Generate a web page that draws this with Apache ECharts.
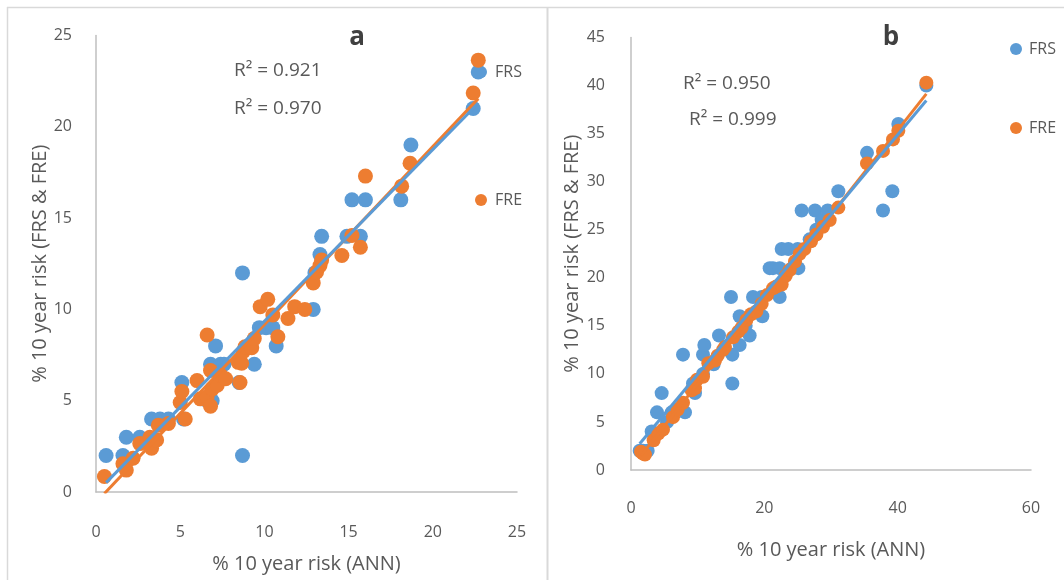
<!DOCTYPE html>
<html><head><meta charset="utf-8">
<script src="https://cdn.jsdelivr.net/npm/echarts@6/dist/echarts.min.js"></script>
<style>html,body{margin:0;padding:0;background:#fff}#c{width:1064px;height:580px}</style>
</head><body><div id="c"></div>
<script>
// ---- Data ----
const panelTitles = ['a', 'b'];
const xTitle = '% 10 year risk (ANN)';
const yTitle = '% 10 year risk (FRS & FRE)';
const r2A = ['R\u00b2 = 0.921', 'R\u00b2 = 0.970'];
const r2B = ['R\u00b2 = 0.950', 'R\u00b2 = 0.999'];

const aFRS = [[0.6,2],[1.6,2],[1.8,3],[2.6,3],[3.3,4],[3.8,4],[4.3,4],[5.1,6],[5.2,4],[6.6,5],[6.8,7],[6.9,5],[7.1,8],[7.4,7],[7.6,7],[8.5,6],[8.7,12],[8.7,2],[9.4,7],[9.7,9],[10.1,9],[10.5,9],[10.7,8],[12.9,10],[13.0,12],[13.3,13],[13.4,14],[14.9,14],[15.2,16],[15.7,14],[16.0,16],[18.1,16],[18.7,19],[22.4,21],[22.7,23]];
const aFRE = [[0.5,0.85],[1.6,1.55],[1.8,1.2],[2.2,1.85],[2.6,2.65],[3.2,3.0],[3.3,2.4],[3.6,2.85],[3.7,3.65],[4.3,3.75],[5.0,4.9],[5.1,5.5],[5.3,4.0],[6.0,6.1],[6.2,5.1],[6.6,5.2],[6.6,8.6],[6.8,4.7],[6.8,6.65],[6.9,5.65],[7.2,5.85],[7.4,6.4],[7.7,6.2],[8.45,7.1],[8.55,6.0],[8.65,7.05],[8.75,7.7],[8.85,7.95],[9.25,7.9],[9.4,8.4],[9.75,10.15],[10.2,10.55],[10.5,9.7],[10.8,8.5],[11.4,9.5],[11.8,10.15],[12.4,10.0],[12.9,11.45],[13.1,12.05],[13.3,12.4],[13.4,12.7],[14.6,12.95],[15.2,14.05],[15.7,13.4],[16.0,17.3],[18.15,16.75],[18.65,18.0],[22.4,21.85],[22.7,23.65]];

const bFRS = [[1.3,2],[1.8,2],[2.5,2],[3.1,4],[3.9,6],[4.6,8],[5.4,5],[6.1,6],[7.8,12],[8.1,6],[9.3,9],[9.6,8],[10.8,10],[10.8,12],[11.0,13],[12.4,11],[13.2,14],[15.0,18],[15.2,12],[15.2,9],[16.3,16],[16.3,13],[17.2,15],[17.8,14],[18.3,18],[19.6,18],[19.7,16],[20.8,21],[21.3,21],[22.3,21],[22.3,18],[22.6,23],[23.6,23],[24.2,21],[25.0,23],[25.1,21],[25.6,27],[26.8,24],[27.6,27],[27.8,25],[28.6,26],[29.5,27],[31.1,29],[35.4,33],[37.8,27],[39.2,29],[40.1,36],[44.3,40]];
const bFRE = [[1.5,1.9],[1.8,1.7],[2.1,1.6],[3.4,3.1],[4.1,3.8],[4.8,4.2],[6.3,5.5],[7.0,6.3],[7.8,7.0],[9.1,8.3],[9.6,8.5],[9.9,9.4],[10.8,9.7],[11.6,11.1],[12.6,11.4],[13.0,11.9],[13.8,12.5],[14.1,12.8],[15.3,13.8],[16.1,14.4],[16.6,14.8],[17.3,15.6],[18.0,16.2],[18.8,16.5],[19.6,17.3],[20.4,18.2],[21.3,18.9],[21.8,19.1],[22.6,19.3],[23.2,20.2],[23.8,20.8],[24.6,21.7],[25.3,22.5],[26.0,23.0],[27.0,23.8],[27.8,24.5],[28.8,25.3],[29.8,26.0],[31.1,27.3],[35.4,31.9],[37.8,33.2],[39.3,34.4],[40.1,35.3],[44.3,40.3]];

// ---- helpers ----
function fit(pts){
  const n = pts.length; let sx=0,sy=0,sxx=0,sxy=0;
  pts.forEach(p=>{sx+=p[0];sy+=p[1];sxx+=p[0]*p[0];sxy+=p[0]*p[1];});
  const m=(n*sxy-sx*sy)/(n*sxx-sx*sx); const b=(sy-m*sx)/n;
  const xs=pts.map(p=>p[0]); const x0=Math.min(...xs), x1=Math.max(...xs);
  return [[x0,m*x0+b],[x1,m*x1+b]];
}
const BLUE='#5B9BD5', ORANGE='#ED7D31', TXT='#595959', AX='#BFBFBF';
const FONT='Open Sans';

function xAxis(gi,max,interval,margin,gap){
  return {type:'value',gridIndex:gi,min:0,max:max,interval:interval,
    name:xTitle,nameLocation:'middle',nameGap:gap,
    nameTextStyle:{color:TXT,fontSize:20,fontFamily:FONT},
    axisLine:{show:true,onZero:false,lineStyle:{color:AX,width:1.5}},
    axisTick:{show:false},splitLine:{show:false},
    axisLabel:{color:TXT,fontSize:16,fontFamily:FONT,margin:margin}};
}
function yAxis(gi,max,interval,margin,gap){
  return {type:'value',gridIndex:gi,min:0,max:max,interval:interval,
    name:yTitle,nameLocation:'middle',nameGap:gap,
    nameTextStyle:{color:TXT,fontSize:20,fontFamily:FONT},
    axisLine:{show:true,onZero:false,lineStyle:{color:AX,width:1.5}},
    axisTick:{show:false},splitLine:{show:false},
    axisLabel:{color:TXT,fontSize:16,fontFamily:FONT,margin:margin}};
}
function scat(name,data,gi,color,size){
  return {type:'scatter',name:name,xAxisIndex:gi,yAxisIndex:gi,data:data,
    symbol:'circle',symbolSize:size,itemStyle:{color:color,opacity:1},z:2};
}
function trend(name,data,gi,color,z){
  return {type:'line',name:name,xAxisIndex:gi,yAxisIndex:gi,data:fit(data),
    symbol:'none',lineStyle:{color:color,width:3},z:z,silent:true};
}

const chart = echarts.init(document.getElementById('c'),null,{renderer:'canvas'});
chart.setOption({
  animation:false,
  backgroundColor:'#fff',
  title:[
    {text:panelTitles[0],left:352,top:20,textAlign:'center',textStyle:{fontSize:26,fontWeight:'bold',color:'#404040',fontFamily:FONT}},
    {text:panelTitles[1],left:886,top:20,textAlign:'center',textStyle:{fontSize:26,fontWeight:'bold',color:'#404040',fontFamily:FONT}}
  ],
  legend:[
    {data:['FRS','FRE'],orient:'vertical',left:470,top:59,itemGap:112,itemWidth:12,itemHeight:12,icon:'circle',z:1,
     textStyle:{color:TXT,fontSize:16,fontFamily:FONT,padding:[0,0,0,3]}},
    {data:['FRS','FRE'],orient:'vertical',left:1005,top:36,itemGap:63,itemWidth:12,itemHeight:12,icon:'circle',
     textStyle:{color:TXT,fontSize:16,fontFamily:FONT,padding:[0,0,0,2]}}
  ],
  grid:[
    {left:96,top:35.5,width:421,height:456.5},
    {left:631,top:37.5,width:400,height:432.5}
  ],
  xAxis:[xAxis(0,25,5,32,62), xAxis(1,60,20,30,70)],
  yAxis:[yAxis(0,25,5,24,46), yAxis(1,45,5,26,49)],
  series:[
    scat('FRS',aFRS,0,BLUE,15),
    scat('FRE',aFRE,0,ORANGE,15),
    trend('FRE trend a',aFRE,0,ORANGE,3),
    trend('FRS trend a',aFRS,0,BLUE,4),
    scat('FRS',bFRS,1,BLUE,14),
    scat('FRE',bFRE,1,ORANGE,14),
    trend('FRE trend b',bFRE,1,ORANGE,3),
    trend('FRS trend b',bFRS,1,BLUE,4)
  ],
  graphic:[
    {type:'line',shape:{x1:7,y1:7.5,x2:1064,y2:7.5},style:{stroke:'#D9D9D9',lineWidth:1.5},silent:true},
    {type:'line',shape:{x1:7.5,y1:7,x2:7.5,y2:580},style:{stroke:'#D9D9D9',lineWidth:1.5},silent:true},
    {type:'line',shape:{x1:547.5,y1:7,x2:547.5,y2:580},style:{stroke:'#D9D9D9',lineWidth:2},silent:true},
    {type:'text',left:234,top:61,style:{text:r2A[0],fill:TXT,fontSize:19,fontFamily:FONT}},
    {type:'text',left:234,top:99,style:{text:r2A[1],fill:TXT,fontSize:19,fontFamily:FONT}},
    {type:'text',left:683,top:74,style:{text:r2B[0],fill:TXT,fontSize:19,fontFamily:FONT}},
    {type:'text',left:689,top:110,style:{text:r2B[1],fill:TXT,fontSize:19,fontFamily:FONT}}
  ]
});
</script></body></html>
